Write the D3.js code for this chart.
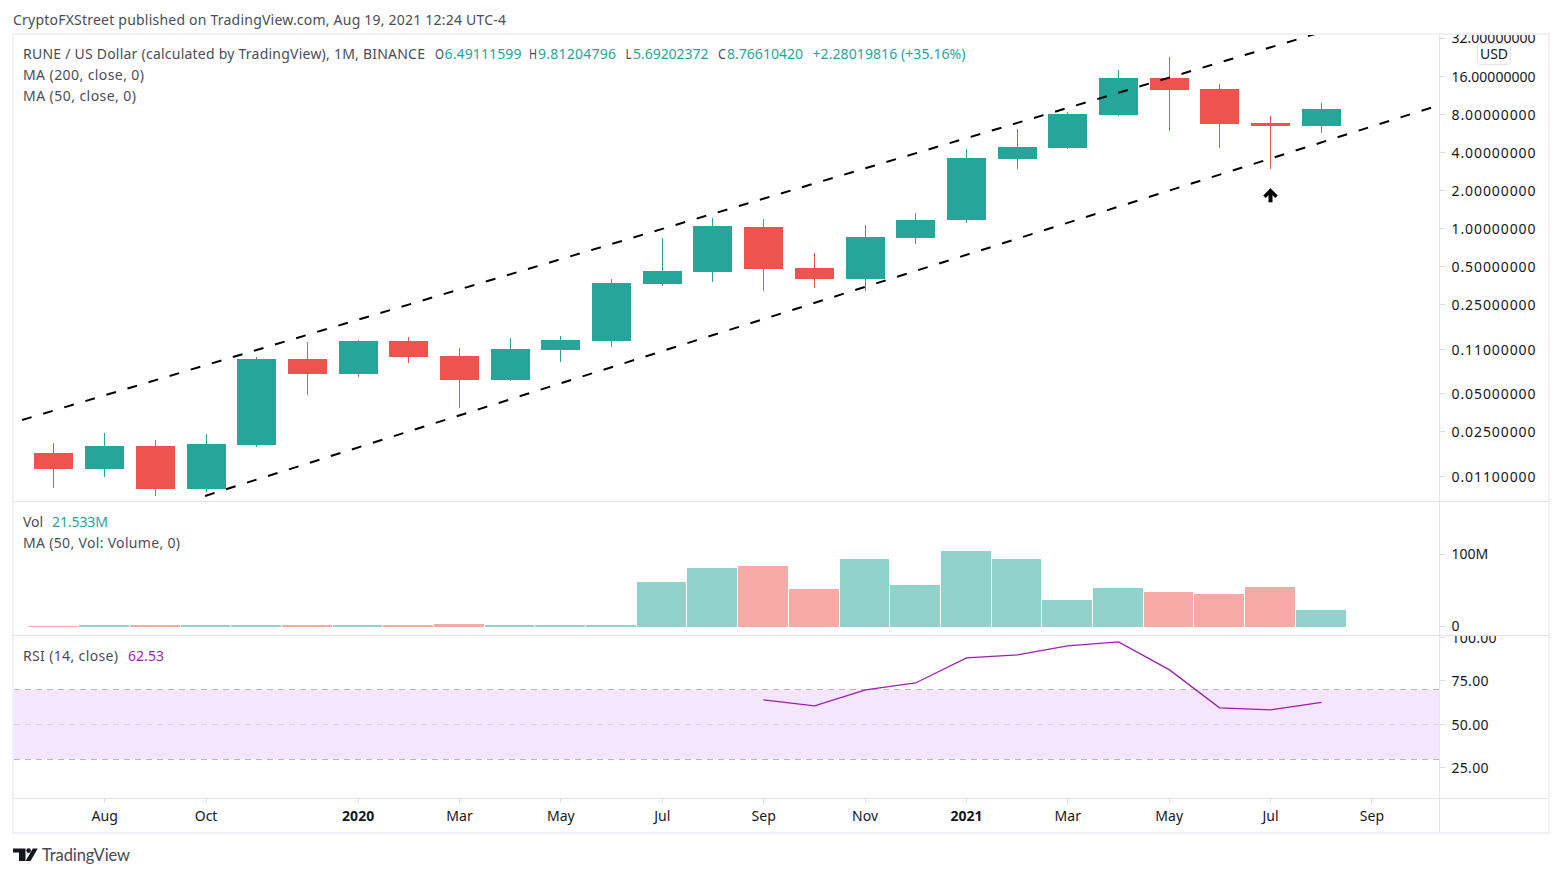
<!DOCTYPE html>
<html><head><meta charset="utf-8">
<script src="https://cdnjs.cloudflare.com/ajax/libs/d3/7.8.5/d3.min.js"></script>
<style>
html,body{margin:0;padding:0;background:#fff;overflow:hidden}
svg{display:block}
text{font-family:"Noto Sans",sans-serif;font-size:14px;fill:#131722}
</style></head><body>
<svg id="c" width="1562" height="877"></svg>
<script>
// ---- data ----
const months = ["Jul 2019","Aug 2019","Sep 2019","Oct 2019","Nov 2019","Dec 2019","Jan 2020","Feb 2020","Mar 2020","Apr 2020","May 2020","Jun 2020","Jul 2020","Aug 2020","Sep 2020","Oct 2020","Nov 2020","Dec 2020","Jan 2021","Feb 2021","Mar 2021","Apr 2021","May 2021","Jun 2021","Jul 2021","Aug 2021"];
const opens  = [.0168,.0126,.0191,.00875,.01947,.0931,.0709,.1291,.0983,.0635,.1097,.1291,.3643,.4532,1.027,.488,.399,.8417,1.167,3.544,4.325,7.9,15.46,12.64,6.82,6.49111599];
const highs  = [.0202,.0242,.0213,.0238,.0966,.1268,.1315,.1389,.1137,.1364,.1415,.399,.8417,1.21,1.189,.6405,1.066,1.326,4.246,6.116,8.33,17.87,22.6,13.83,7.74,9.81204796];
const lows   = [.0089,.01088,.00768,.00828,.01877,.0484,.0671,.0866,.0382,.0623,.0881,.1158,.3512,.3777,.3208,.3388,.3208,.754,1.105,2.952,4.246,7.74,5.89,4.325,2.952,5.69202372];
const closes = [.01259,.0191,.00875,.0198,.0931,.0709,.1291,.0966,.0635,.1116,.1315,.371,.4615,1.047,.4788,.399,.8567,1.167,3.606,4.404,8.0,15.46,12.41,6.69,6.49,8.7661042];
const volumes = [.4,1.2,1.2,1.2,1.2,1.2,1.2,1.2,2.4,1.2,1.2,1.2,61,80.5,83.3,51.4,93,57,104,93,36,53,47,44.5,54,21.533];
const rsiValues = [null,null,null,null,null,null,null,null,null,null,null,null,null,null,64,60.5,69.7,73.7,88.1,89.8,95,97.3,81.2,59.4,58.2,62.53];
const upperChannel = [{i:-0.63,p:.03069},{i:24.88,p:34.4}];
const lowerChannel = [{i:2.98,p:.00771},{i:27.21,p:9.12}];
const arrowMark = {i:24,p:1.83};
const priceTicks = [32,16,8,4,2,1,.5,.25,.11,.05,.025,.011];
const volTicks = [0,100];
const rsiTicks = [100,75,50,25];
const timeTickIdx = [1,3,6,8,10,12,14,16,18,20,22,24,26];
const timeTickLabels = ["Aug","Oct","2020","Mar","May","Jul","Sep","Nov","2021","Mar","May","Jul","Sep"];

// ---- layout ----
const UP="#26a69a", DOWN="#ef5350", UPV="#92d2cc", DOWNV="#f7a9a7";
const fL=14, fR=1548, fT=35, fB=832, axisX=1439.5;
const pane1B=501, pane2B=635, pane3B=798;
const svg=d3.select("#c");

const x=d3.scaleLinear().domain([0,26]).range([53.99,53.99+50.69*26]);
const y=d3.scaleLog().base(2).domain([1,32]).range([228.5,38]);
const yV=d3.scaleLinear().domain([0,100]).range([626,554]);
const yR=d3.scaleLinear().domain([25,100]).range([767.7,637.2]);
const bodyLeft=i=>Math.round(x(i)-19.5);

const defs=svg.append("defs");
const clip=(id,a,b,c,d)=>defs.append("clipPath").attr("id",id).append("rect").attr("x",a).attr("y",b).attr("width",c).attr("height",d);
clip("p1",fL,fT,axisX-fL,pane1B-fT);
clip("ax1",axisX,fT,fR-axisX,pane1B-fT);
clip("ax3",axisX,pane2B+1,fR-axisX,pane3B-pane2B-1);

// frame
svg.append("rect").attr("x",13).attr("y",34).attr("width",1536).attr("height",799)
  .attr("fill","none").attr("stroke","#f0f0f5").attr("stroke-width",2);
const sep=svg.append("g").attr("stroke","#e0e3eb").attr("shape-rendering","crispEdges");
[pane1B,pane2B,pane3B].forEach(v=>sep.append("line").attr("x1",14).attr("x2",1548).attr("y1",v+.5).attr("y2",v+.5));
sep.append("line").attr("x1",axisX).attr("x2",axisX).attr("y1",35).attr("y2",832);

// candles
const cg=svg.append("g").attr("clip-path","url(#p1)").attr("shape-rendering","crispEdges");
months.forEach((m,i)=>{
  const c=closes[i]>=opens[i]?UP:DOWN;
  const bl=bodyLeft(i);
  cg.append("rect").attr("x",bl+19).attr("width",1)
    .attr("y",Math.round(y(highs[i]))).attr("height",Math.round(y(lows[i]))-Math.round(y(highs[i]))).attr("fill",c);
  const t=Math.round(y(Math.max(opens[i],closes[i]))), b=Math.round(y(Math.min(opens[i],closes[i])));
  cg.append("rect").attr("x",bl).attr("width",39)
    .attr("y",t).attr("height",Math.max(b-t,1)).attr("fill",c);
});
// channel lines
const ln=d3.line().x(d=>x(d.i)).y(d=>y(d.p));
[upperChannel,lowerChannel].forEach(d=>{
  svg.append("path").attr("clip-path","url(#p1)").attr("d",ln(d)).attr("fill","none")
    .attr("stroke","#000").attr("stroke-width",2).attr("stroke-dasharray","10 12");
});
// arrow
const ag=svg.append("g").attr("transform",`translate(${bodyLeft(arrowMark.i)+19.5},${y(arrowMark.p)})`);
ag.append("path").attr("d","M-6 1.5L0 -4.5L6 1.5").attr("fill","none").attr("stroke","#000").attr("stroke-width",3.6);
ag.append("path").attr("d","M0 -4L0 7").attr("fill","none").attr("stroke","#000").attr("stroke-width",4);

// volume
const vg=svg.append("g").attr("shape-rendering","crispEdges");
months.forEach((m,i)=>{
  const t=Math.round(yV(volumes[i]));
  const l=bodyLeft(i)-6, r=Math.ceil(x(i+1)-19.5)-7;
  vg.append("rect").attr("x",l).attr("width",(i<months.length-1?bodyLeft(i+1)-7:r)-l)
    .attr("y",t).attr("height",627-t).attr("fill",closes[i]>=opens[i]?UPV:DOWNV);
});

// RSI
svg.append("rect").attr("x",14).attr("width",axisX-14).attr("y",yR(70)).attr("height",yR(30)-yR(70)).attr("fill","#f4e7fd");
[[70,"#bdb3c3"],[50,"#d8d0e0"],[30,"#bdb3c3"]].forEach(([v,c])=>{
  svg.append("line").attr("x1",14).attr("x2",axisX).attr("y1",Math.round(yR(v))+.5).attr("y2",Math.round(yR(v))+.5)
    .attr("stroke",c).attr("stroke-dasharray","6 5").attr("shape-rendering","crispEdges");
});
const rsiLine=d3.line().defined(d=>d!=null).x((d,i)=>bodyLeft(i)+19.5).y(d=>yR(d));
svg.append("path").attr("d",rsiLine(rsiValues)).attr("fill","none").attr("stroke","#9c1fae").attr("stroke-width",1.3);

// axes
function styleAxis(g){
  g.select(".domain").remove();
  g.selectAll("line").attr("stroke","#d9dce3").attr("shape-rendering","crispEdges");
  g.selectAll("text").attr("fill","#131722").attr("dy","0.39em");
}
const fit=(g,w)=>g.selectAll("text").attr("textLength",function(){return w(this.textContent)}).attr("lengthAdjust","spacing");
const a1=svg.append("g").attr("clip-path","url(#ax1)");
a1.append("g").attr("transform",`translate(${axisX},0)`)
  .call(d3.axisRight(y).tickValues(priceTicks).tickSize(5).tickPadding(7).offset(0).tickFormat(d=>d.toFixed(8))).call(styleAxis).call(fit,()=>84);
svg.append("g").attr("transform",`translate(${axisX},0)`)
  .call(d3.axisRight(yV).tickValues(volTicks).tickSize(5).tickPadding(7).offset(0).tickFormat(d=>d?d+"M":"0")).call(styleAxis);
const a3=svg.append("g").attr("clip-path","url(#ax3)");
a3.append("g").attr("transform",`translate(${axisX},0)`)
  .call(d3.axisRight(yR).tickValues(rsiTicks).tickSize(5).tickPadding(7).offset(0).tickFormat(d=>d.toFixed(2))).call(styleAxis).call(fit,s=>s.length>5?45:37);
const ax=svg.append("g").attr("transform",`translate(0,${pane3B})`)
  .call(d3.axisBottom(x).tickValues(timeTickIdx).tickSize(5).tickPadding(8).offset(0).tickFormat((d,i)=>timeTickLabels[i])).call(styleAxis);
ax.selectAll("text").attr("dy","0.71em").attr("font-weight",(d,i)=>/^20/.test(timeTickLabels[i])?700:400);

// USD box
svg.append("rect").attr("x",1477.5).attr("y",43.5).attr("width",33).attr("height",21).attr("rx",3.5).attr("fill","#fff").attr("stroke","#e0e3eb");
svg.append("text").attr("x",1494).attr("y",59).attr("text-anchor","middle").text("USD");

// legends
const GREY="#4a4d57";
function T(xp,yp,s,w,col){
  const t=svg.append("text").attr("x",xp).attr("y",yp).text(s).style("fill",col||GREY);
  if(w) t.attr("textLength",w).attr("lengthAdjust",s.length===1?"spacingAndGlyphs":"spacing");
  return t;
}
T(13,25,"CryptoFXStreet published on TradingView.com, Aug 19, 2021 12:24 UTC-4",493);
T(23,59,"RUNE / US Dollar (calculated by TradingView), 1M, BINANCE",402);
T(435,59,"O",9); T(444.5,59,"6.49111599",77,UP);
T(529,59,"H",8); T(538,59,"9.81204796",78,UP);
T(625.5,59,"L",6); T(633,59,"5.69202372",75.5,UP);
T(718,59,"C",8); T(727,59,"8.76610420",76,UP);
T(812.5,59,"+2.28019816 (+35.16%)",153,UP);
T(23,80,"MA (200, close, 0)",121);
T(23,101,"MA (50, close, 0)",113);
T(23,527,"Vol",20); T(52,527,"21.533M",56,UP);
T(23,548,"MA (50, Vol: Volume, 0)",157);
T(23,661,"RSI (14, close)",95); T(128,661,"62.53",36,"#9c27b0");

// logo
const lg=svg.append("g").attr("fill","#131722");
lg.append("path").attr("d","M13 848.5H25.5V861H19V852.5H13Z");
lg.append("circle").attr("cx",28.6).attr("cy",850.6).attr("r",2.3);
lg.append("path").attr("d","M32.8 848.5H37.8L30.5 861H25.6Z");
svg.append("text").attr("x",42).attr("y",861).text("TradingView").style("font-family","Lato").style("font-size","16.5px").style("fill","#4a4a4f").attr("textLength",88);
</script>
</body></html>
